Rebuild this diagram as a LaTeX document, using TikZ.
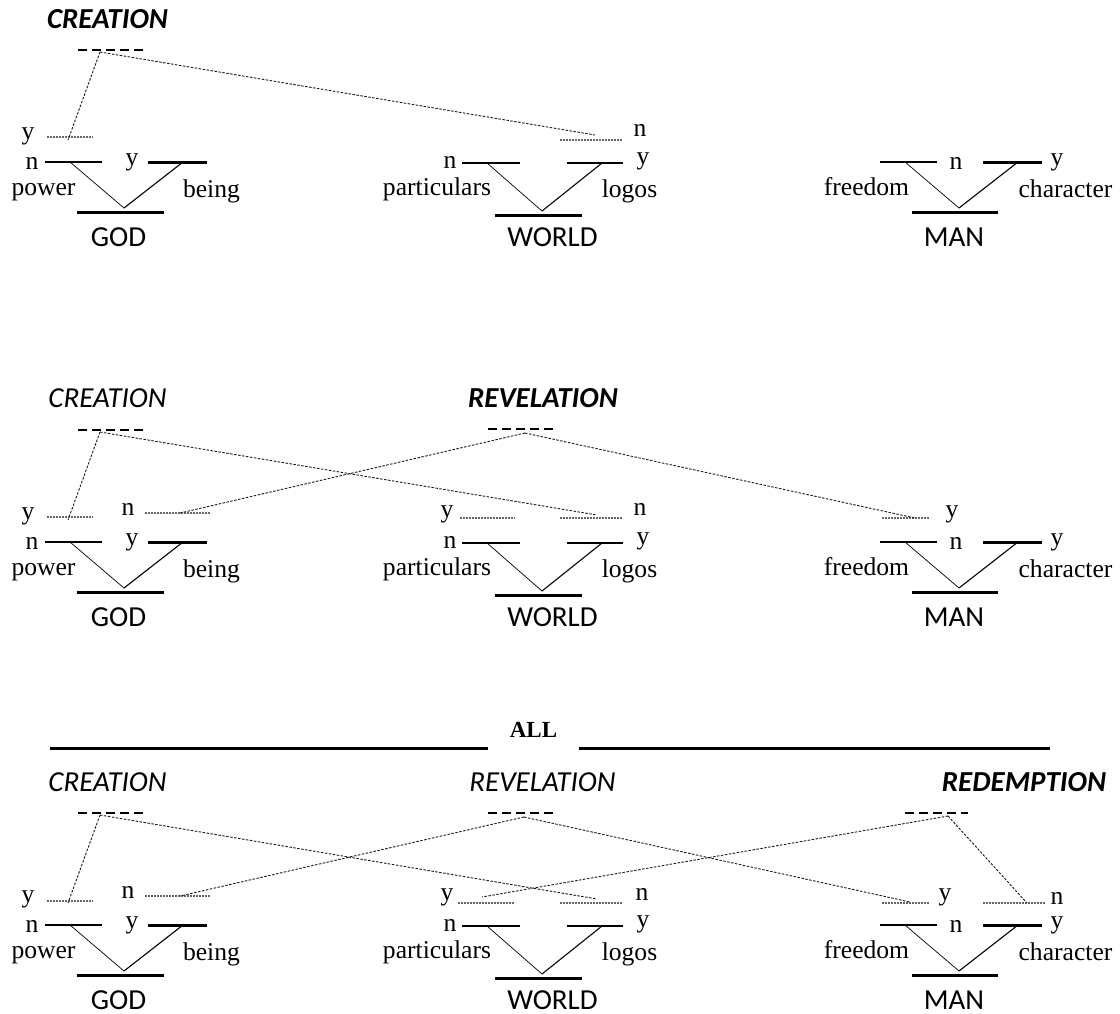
\documentclass[tikz,border=0pt]{standalone}
\usepackage{fontspec}
\setmainfont{Liberation Serif}
\newfontfamily\calfont{Carlito}
\tikzset{
 lbl/.style={font=\fontsize{25.6}{28}\selectfont, inner sep=0pt, anchor=base},
 ttl/.style={font=\calfont\fontsize{29}{32}\selectfont, inner sep=0pt, anchor=base},
 ttli/.style={ttl, font=\calfont\fontsize{29}{32}\selectfont\itshape},
 ttlb/.style={ttl, font=\calfont\fontsize{29}{32}\selectfont\bfseries\itshape},
 thinbar/.style={line width=1.8pt},
 thickbar/.style={line width=3pt},
 vleft/.style={line width=0.7pt},
 vright/.style={line width=1.1pt},
 dotline/.style={black!60, line width=1.2pt, dash pattern=on 1.5pt off 1.5pt},
 conn/.style={black!90, line width=0.9pt, dash pattern=on 2.5pt off 1.5pt},
 dashmark/.style={line width=2.5pt, dash pattern=on 9pt off 5pt},
 allbar/.style={line width=3pt},
}
\newcommand\drawunits[1]{%
 % GOD
 \coordinate (GODtl1#1) at (45,162); \coordinate (GODtl2#1) at (102,162);
 \coordinate (GODtr1#1) at (148,162); \coordinate (GODtr2#1) at (207,162);
 \coordinate (GODbt1#1) at (77,212); \coordinate (GODbt2#1) at (164,212);
 \coordinate (GODa#1) at (70,162); \coordinate (GODv#1) at (124,208); \coordinate (GODb#1) at (183,162);
 \draw[thinbar] (GODtl1#1) -- (GODtl2#1);
 \draw[thickbar] (GODtr1#1) -- (GODtr2#1);
 \draw[thickbar] (GODbt1#1) -- (GODbt2#1);
 \draw[vleft] (GODa#1) -- (GODv#1);
 \draw[vright] (GODv#1) -- (GODb#1);
 \node[lbl] (GODn#1) at (32,169) {n};
 \node[lbl] (GODy#1) at (132,165) {y};
 \node[lbl] (GODpow#1) at (43.5,195) {power};
 \node[lbl] (GODbei#1) at (211.5,197) {being};
 \node[ttl] (GOD#1) at (118.5,246) {GOD};
 % WORLD
 \coordinate (WLDtl1#1) at (462,163); \coordinate (WLDtl2#1) at (520,163);
 \coordinate (WLDtr1#1) at (567,163); \coordinate (WLDtr2#1) at (623,163);
 \coordinate (WLDbt1#1) at (495,215); \coordinate (WLDbt2#1) at (582,215);
 \coordinate (WLDa#1) at (487,163); \coordinate (WLDv#1) at (542,211); \coordinate (WLDb#1) at (602,163);
 \draw[thinbar] (WLDtl1#1) -- (WLDtl2#1);
 \draw[line width=2.2pt] (WLDtr1#1) -- (WLDtr2#1);
 \draw[thickbar] (WLDbt1#1) -- (WLDbt2#1);
 \draw[vleft] (WLDa#1) -- (WLDv#1);
 \draw[vright] (WLDv#1) -- (WLDb#1);
 \node[lbl] (WLDn#1) at (450,168) {n};
 \node[lbl] (WLDy#1) at (643,164) {y};
 \node[lbl] (WLDpar#1) at (437,195) {particulars};
 \node[lbl] (WLDlog#1) at (629.5,197) {logos};
 \node[ttl] (WLD#1) at (552.5,246) {WORLD};
 % MAN
 \coordinate (MANtl1#1) at (880,162); \coordinate (MANtl2#1) at (937,162);
 \coordinate (MANtr1#1) at (983,162); \coordinate (MANtr2#1) at (1042,162);
 \coordinate (MANbt1#1) at (912,212); \coordinate (MANbt2#1) at (998,212);
 \coordinate (MANa#1) at (905,162); \coordinate (MANv#1) at (959,208); \coordinate (MANb#1) at (1018,162);
 \draw[thinbar] (MANtl1#1) -- (MANtl2#1);
 \draw[thickbar] (MANtr1#1) -- (MANtr2#1);
 \draw[thickbar] (MANbt1#1) -- (MANbt2#1);
 \draw[vleft] (MANa#1) -- (MANv#1);
 \draw[vright] (MANv#1) -- (MANb#1);
 \node[lbl] (MANn#1) at (956,169) {n};
 \node[lbl] (MANy#1) at (1057,165) {y};
 \node[lbl] (MANfre#1) at (866.5,195) {freedom};
 \node[lbl] (MANcha#1) at (1065.5,197) {character};
 \node[ttl] (MAN#1) at (954,246) {MAN};
}
\begin{document}
\begin{tikzpicture}[x=1pt,y=-1pt]
\useasboundingbox (0,0) rectangle (1120,1013);
% ---------------- row 1
\begin{scope}\drawunits{A}\end{scope}
\node[ttlb] (creA) at (107.5,28) {CREATION};
\coordinate (dCA1) at (78,50); \coordinate (dCA2) at (143,50);
\draw[dashmark] (dCA1) -- (dCA2);
\coordinate (apCA) at (100,52);
\coordinate (gyA1) at (47,137); \coordinate (gyA2) at (93,137);
\draw[dotline] (gyA1) -- (gyA2);
\node[lbl] (gyAl) at (28,139) {y};
\coordinate (gyAe) at (68,140);
\coordinate (wnA1) at (560,140); \coordinate (wnA2) at (623,140);
\draw[dotline] (wnA1) -- (wnA2);
\node[lbl] (wnAl) at (640,136) {n};
\coordinate (wnAe) at (595,135);
\draw[conn] (apCA) -- (gyAe);
\draw[conn] (apCA) -- (wnAe);
% ---------------- row 2
\begin{scope}[shift={(0,380)}]\drawunits{B}\end{scope}
\node[ttli] (creB) at (107.5,407) {CREATION};
\node[ttlb] (revB) at (543,407) {REVELATION};
\coordinate (dCB1) at (78,430); \coordinate (dCB2) at (143,430);
\draw[dashmark] (dCB1) -- (dCB2);
\coordinate (dRB1) at (488,429); \coordinate (dRB2) at (553,429);
\draw[dashmark] (dRB1) -- (dRB2);
\coordinate (apCB) at (100,432);
\coordinate (apRB) at (525,433);
\coordinate (gyB1) at (47,517); \coordinate (gyB2) at (93,517);
\draw[dotline] (gyB1) -- (gyB2);
\node[lbl] (gyBl) at (28,519) {y};
\coordinate (gyBe) at (68,520);
\coordinate (gnB1) at (145,513); \coordinate (gnB2) at (210,513);
\draw[dotline] (gnB1) -- (gnB2);
\node[lbl] (gnBl) at (128,515) {n};
\coordinate (gnBe) at (180,513);
\coordinate (wyB1) at (460,518); \coordinate (wyB2) at (515,518);
\draw[dotline] (wyB1) -- (wyB2);
\node[lbl] (wyBl) at (447,517) {y};
\coordinate (wnB1) at (560,518); \coordinate (wnB2) at (623,518);
\draw[dotline] (wnB1) -- (wnB2);
\node[lbl] (wnBl) at (640,515) {n};
\coordinate (wnBe) at (597,515);
\coordinate (myB1) at (882,518); \coordinate (myB2) at (930,518);
\draw[dotline] (myB1) -- (myB2);
\node[lbl] (myBl) at (952,517) {y};
\coordinate (myBe) at (915,518);
\draw[conn] (apCB) -- (gyBe);
\draw[conn] (apCB) -- (wnBe);
\draw[conn] (apRB) -- (gnBe);
\draw[conn] (apRB) -- (myBe);
% ---------------- ALL
\coordinate (al1) at (50,748); \coordinate (al2) at (488,748);
\coordinate (ar1) at (579,748); \coordinate (ar2) at (1050,748);
\draw[allbar] (al1) -- (al2);
\draw[allbar] (ar1) -- (ar2);
\node[lbl, font=\fontsize{23}{26}\selectfont\bfseries] (all) at (533.5,737) {ALL};
% ---------------- row 3
\begin{scope}[shift={(0,763)}]\drawunits{C}\end{scope}
\node[ttli] (creC) at (107.5,791) {CREATION};
\node[ttli] (revC) at (542.5,791) {REVELATION};
\node[ttlb] (redC) at (1024,791) {REDEMPTION};
\coordinate (dCC1) at (78,813); \coordinate (dCC2) at (143,813);
\draw[dashmark] (dCC1) -- (dCC2);
\coordinate (dRC1) at (488,813); \coordinate (dRC2) at (553,813);
\draw[dashmark] (dRC1) -- (dRC2);
\coordinate (dDC1) at (905,813); \coordinate (dDC2) at (968,813);
\draw[dashmark] (dDC1) -- (dDC2);
\coordinate (apCC) at (100,815);
\coordinate (apRC) at (524,817);
\coordinate (apDC) at (948,816);
\coordinate (gyC1) at (47,901); \coordinate (gyC2) at (93,901);
\draw[dotline] (gyC1) -- (gyC2);
\node[lbl] (gyCl) at (28,902) {y};
\coordinate (gyCe) at (68,903);
\coordinate (gnC1) at (145,896); \coordinate (gnC2) at (210,896);
\draw[dotline] (gnC1) -- (gnC2);
\node[lbl] (gnCl) at (128,898) {n};
\coordinate (gnCe) at (180,896);
\coordinate (wyC1) at (458,903); \coordinate (wyC2) at (515,903);
\draw[dotline] (wyC1) -- (wyC2);
\node[lbl] (wyCl) at (447,900) {y};
\coordinate (wyCe) at (482,897);
\coordinate (wnC1) at (560,903); \coordinate (wnC2) at (622,903);
\draw[dotline] (wnC1) -- (wnC2);
\node[lbl] (wnCl) at (642,900) {n};
\coordinate (wnCe) at (597,899);
\coordinate (myC1) at (882,903); \coordinate (myC2) at (930,903);
\draw[dotline] (myC1) -- (myC2);
\node[lbl] (myCl) at (945,900) {y};
\coordinate (myCe) at (910,902);
\coordinate (mnC1) at (983,903); \coordinate (mnC2) at (1046,903);
\draw[dotline] (mnC1) -- (mnC2);
\node[lbl] (mnCl) at (1057,904) {n};
\coordinate (mnCe) at (1027,903);
\draw[conn] (apCC) -- (gyCe);
\draw[conn] (apCC) -- (wnCe);
\draw[conn] (apRC) -- (gnCe);
\draw[conn] (apRC) -- (myCe);
\draw[conn] (apDC) -- (wyCe);
\draw[conn] (apDC) -- (mnCe);
\end{tikzpicture}
\end{document}
